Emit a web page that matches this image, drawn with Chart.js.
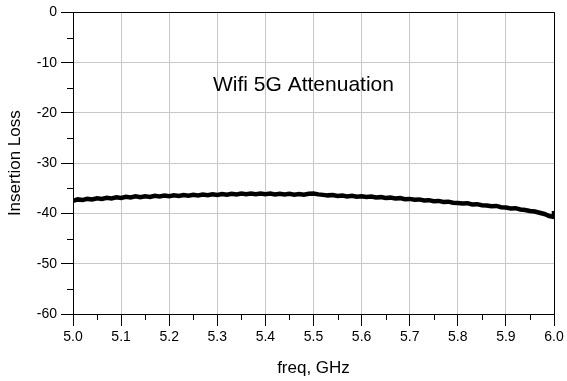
<!DOCTYPE html>
<html>
<head>
<meta charset="utf-8">
<script src="https://cdn.jsdelivr.net/npm/chart.js@4/dist/chart.umd.min.js"></script>
<style>
html,body{margin:0;padding:0;background:#fff;}
#wrap{width:567px;height:381px;}
</style>
</head>
<body>
<div id="wrap"><canvas id="c" width="567" height="381"></canvas></div>
<script>
const freq = [5.00,5.01,5.02,5.03,5.04,5.05,5.06,5.07,5.08,5.09,
  5.10,5.11,5.12,5.13,5.14,5.15,5.16,5.17,5.18,5.19,
  5.20,5.21,5.22,5.23,5.24,5.25,5.26,5.27,5.28,5.29,
  5.30,5.31,5.32,5.33,5.34,5.35,5.36,5.37,5.38,5.39,
  5.40,5.41,5.42,5.43,5.44,5.45,5.46,5.47,5.48,5.49,
  5.50,5.51,5.52,5.53,5.54,5.55,5.56,5.57,5.58,5.59,
  5.60,5.61,5.62,5.63,5.64,5.65,5.66,5.67,5.68,5.69,
  5.70,5.71,5.72,5.73,5.74,5.75,5.76,5.77,5.78,5.79,
  5.80,5.81,5.82,5.83,5.84,5.85,5.86,5.87,5.88,5.89,
  5.90,5.91,5.92,5.93,5.94,5.95,5.96,5.97,5.98,5.99,6.00,6.00];
const loss = [-37.5,-37.2,-37.3,-37.1,-37.2,-37.0,-37.1,-36.9,-37.0,-36.8,
  -36.9,-36.7,-36.8,-36.6,-36.75,-36.6,-36.7,-36.5,-36.6,-36.45,
  -36.55,-36.4,-36.5,-36.35,-36.45,-36.3,-36.4,-36.25,-36.35,-36.2,
  -36.3,-36.15,-36.25,-36.1,-36.2,-36.05,-36.15,-36.05,-36.15,-36.05,
  -36.15,-36.05,-36.2,-36.1,-36.2,-36.1,-36.25,-36.15,-36.25,-36.1,
  -36.05,-36.2,-36.3,-36.4,-36.35,-36.5,-36.45,-36.6,-36.5,-36.65,
  -36.6,-36.7,-36.65,-36.8,-36.75,-36.9,-36.85,-37.0,-36.95,-37.15,
  -37.1,-37.25,-37.2,-37.4,-37.35,-37.55,-37.5,-37.7,-37.65,-37.85,
  -37.9,-38.0,-37.95,-38.2,-38.15,-38.35,-38.4,-38.55,-38.5,-38.75,
  -38.8,-39.0,-38.95,-39.2,-39.3,-39.5,-39.6,-39.85,-40.1,-40.5,-40.7,-39.5];
const xTicks = [5.0,5.1,5.2,5.3,5.4,5.5,5.6,5.7,5.8,5.9,6.0];
const yTicks = [0,-10,-20,-30,-40,-50,-60];
const xMinor = [5.05,5.15,5.25,5.35,5.45,5.55,5.65,5.75,5.85,5.95];
const yMinor = [-5,-15,-25,-35,-45,-55];
const titleText = 'Wifi 5G Attenuation';
const xTitle = 'freq, GHz';
const yTitle = 'Insertion Loss';

const FONT = "'Liberation Sans', Arial, sans-serif";

const extras = {
  id: 'extras',
  afterDraw(chart) {
    const {ctx, chartArea: a, scales: {x, y}} = chart;
    ctx.save();
    ctx.strokeStyle = '#000';
    ctx.lineWidth = 1;
    ctx.beginPath();
    ctx.moveTo(a.left, Math.round(a.top) + 0.5);
    ctx.lineTo(a.right + 0.5, Math.round(a.top) + 0.5);
    ctx.moveTo(Math.round(a.right) + 0.5, a.top);
    ctx.lineTo(Math.round(a.right) + 0.5, a.bottom + 1);
    xMinor.forEach(v => {
      const px = Math.round(x.getPixelForValue(v)) + 0.5;
      ctx.moveTo(px, a.bottom);
      ctx.lineTo(px, a.bottom + 6);
    });
    yMinor.forEach(v => {
      const py = Math.round(y.getPixelForValue(v)) + 0.5;
      ctx.moveTo(a.left - 6, py);
      ctx.lineTo(a.left, py);
    });
    ctx.stroke();
    ctx.fillStyle = '#000';
    ctx.font = '21px ' + FONT;
    ctx.textBaseline = 'middle';
    ctx.textAlign = 'left';
    ctx.fillText(titleText, 213, 85);
    ctx.restore();
  }
};

new Chart(document.getElementById('c'), {
  type: 'line',
  data: {
    datasets: [{
      data: freq.map((f, i) => ({x: f, y: loss[i]})),
      borderColor: '#000',
      borderWidth: 4.5,
      pointRadius: 0,
      tension: 0,
      fill: false
    }]
  },
  options: {
    responsive: false,
    animation: false,
    events: [],
    layout: {padding: {top: 10, right: 13, left: 0, bottom: 0}},
    plugins: {legend: {display: false}, tooltip: {enabled: false}, title: {display: false}},
    scales: {
      x: {
        type: 'linear',
        min: 5.0, max: 6.0,
        afterBuildTicks(s) { s.ticks = xTicks.map(v => ({value: v})); },
        afterFit(s) { s.height = 67; },
        ticks: {
          color: '#000',
          font: {family: FONT, size: 14},
          padding: 3,
          maxRotation: 0,
          autoSkip: false,
          callback: v => v.toFixed(1)
        },
        grid: {color: '#c8c8c8', lineWidth: 1, drawTicks: true, tickLength: 12, tickColor: '#000'},
        border: {color: '#000', width: 1},
        title: {display: true, text: xTitle, color: '#000', font: {family: FONT, size: 17}, padding: {top: 0, bottom: 2}}
      },
      y: {
        type: 'linear',
        min: -60, max: 0,
        afterBuildTicks(s) { s.ticks = yTicks.map(v => ({value: v})); },
        afterFit(s) { s.width = 73; },
        ticks: {
          color: '#000',
          font: {family: FONT, size: 14},
          padding: 4,
          autoSkip: false,
          callback: v => String(v)
        },
        grid: {color: '#c8c8c8', lineWidth: 1, drawTicks: true, tickLength: 12, tickColor: '#000'},
        border: {color: '#000', width: 1},
        title: {display: true, text: yTitle, color: '#000', font: {family: FONT, size: 17}, padding: {top: 5, bottom: 0}}
      }
    }
  },
  plugins: [extras]
});
</script>
</body>
</html>
